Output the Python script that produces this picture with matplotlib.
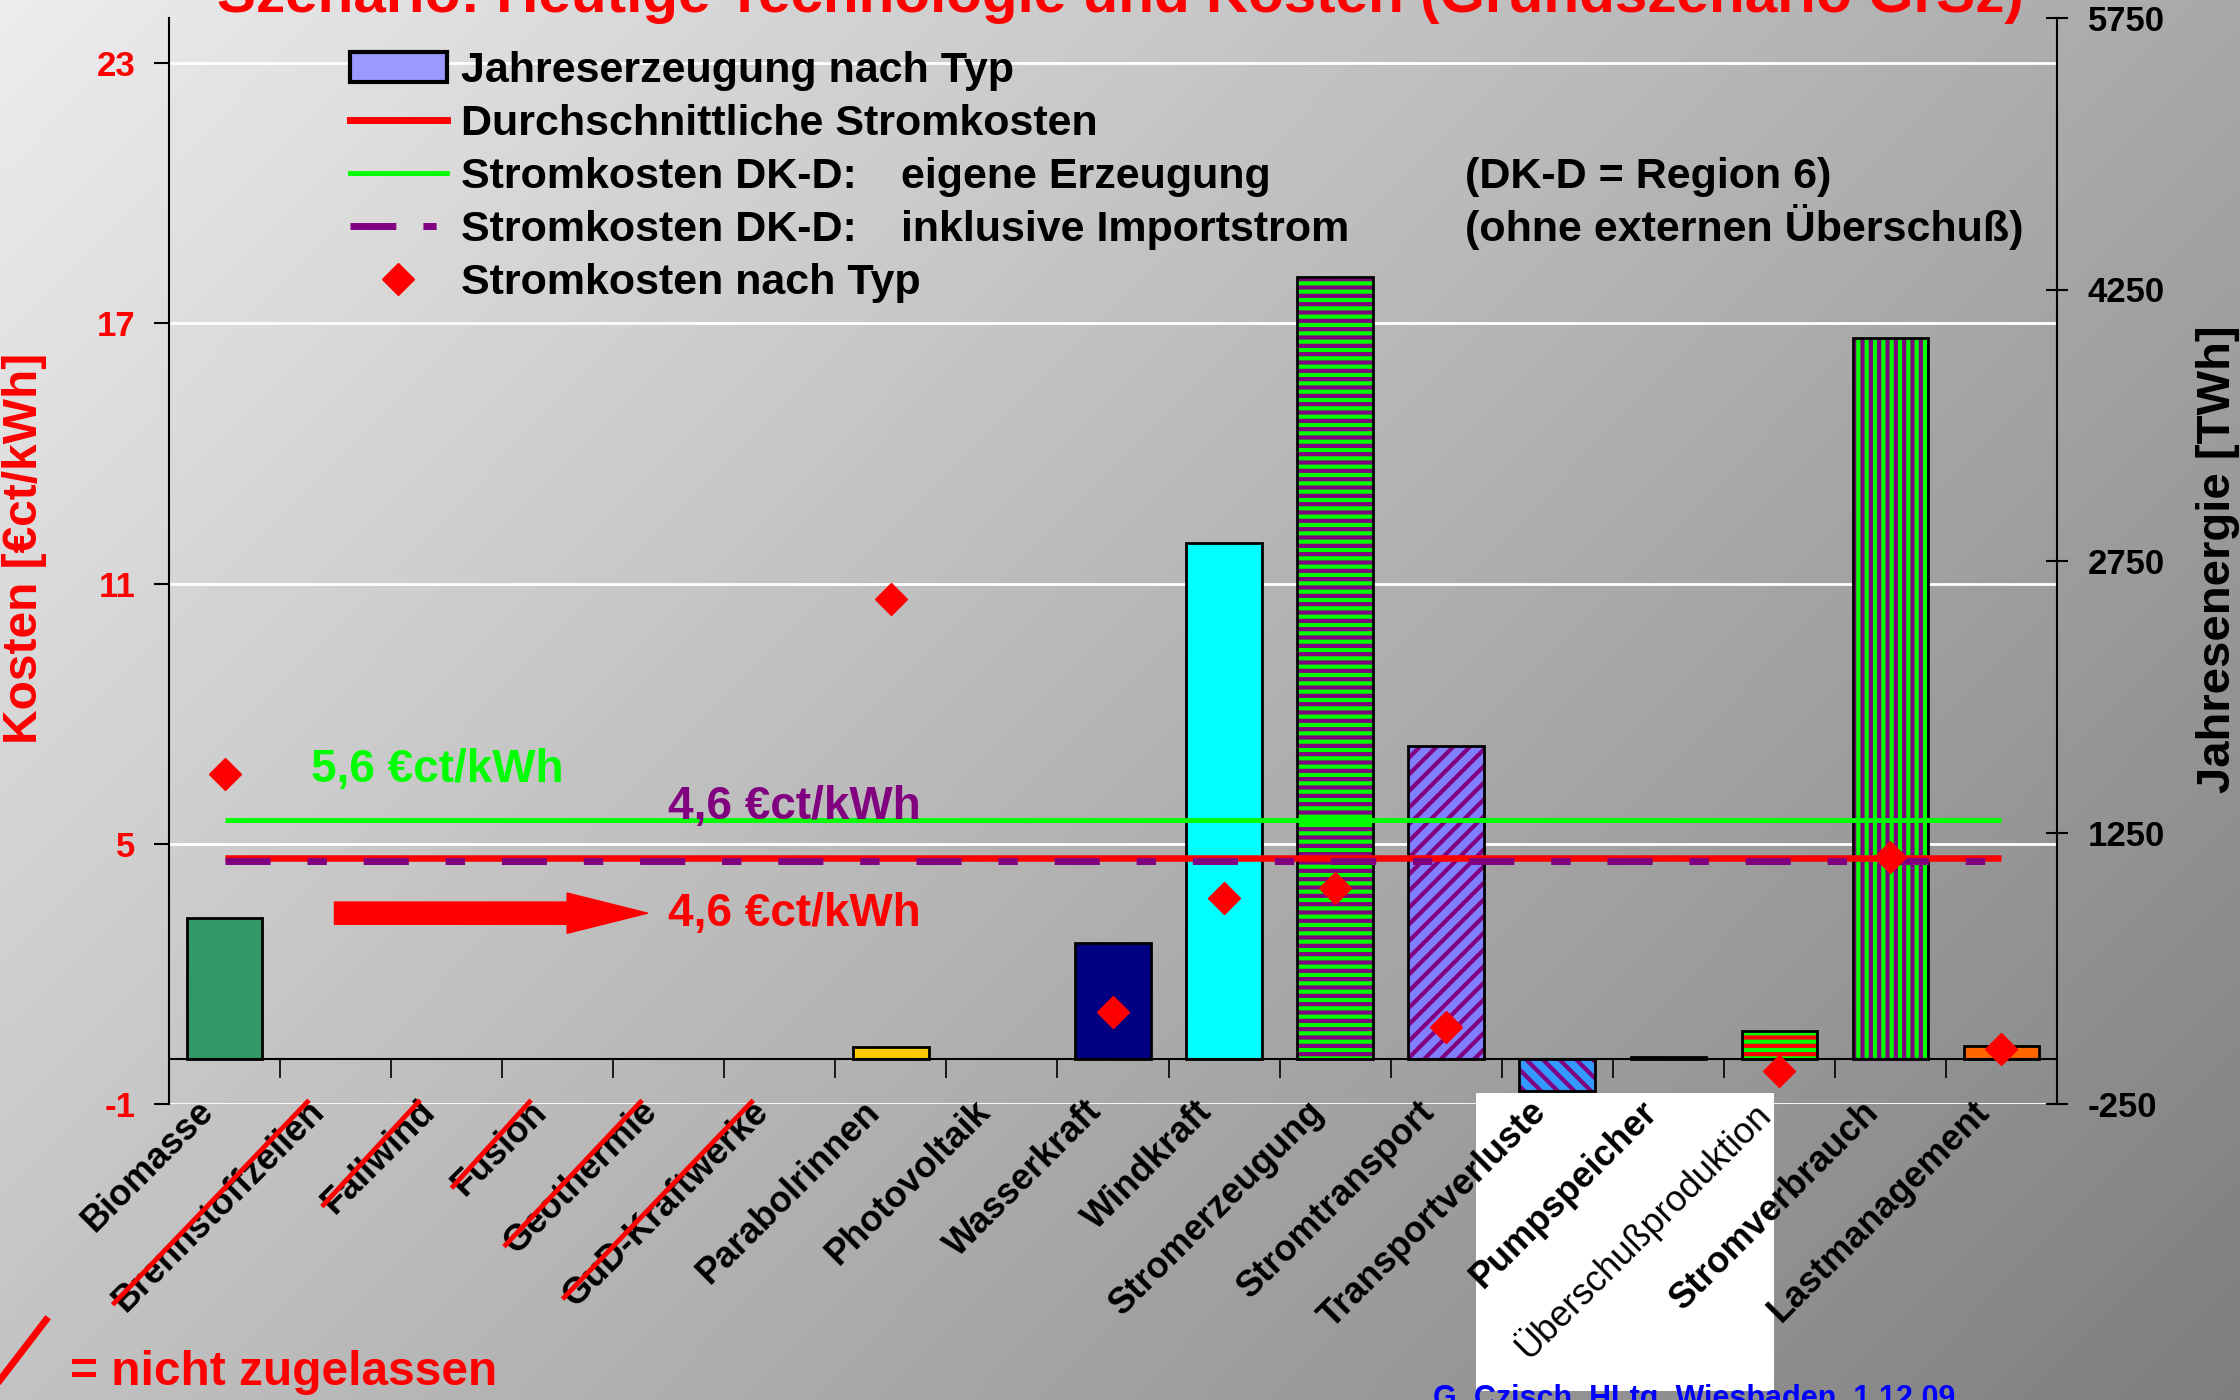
import numpy as np
import matplotlib.pyplot as plt
import matplotlib.transforms as mtransforms
from matplotlib.patches import Patch, Rectangle
from matplotlib.lines import Line2D

plt.rcParams['font.family'] = 'Liberation Sans'
plt.rcParams['font.weight'] = 'bold'
plt.rcParams['hatch.linewidth'] = 3.0
plt.rcParams['axes.unicode_minus'] = False

nan = np.nan
categories = ['Biomasse', 'Brennstoffzellen', 'Fallwind', 'Fusion', 'Geothermie',
              'GuD-Kraftwerke', 'Parabolrinnen', 'Photovoltaik', 'Wasserkraft',
              'Windkraft', 'Stromerzeugung', 'Stromtransport', 'Transportverluste',
              'Pumpspeicher', 'Überschußproduktion', 'Stromverbrauch', 'Lastmanagement']
# Jahresenergie [TWh] (rechte Achse)
energy_twh = [780, nan, nan, nan, nan, nan, 65, nan, 640, 2850, 4320, 1730,
              -178, 12, 153, 3980, 72]
# Stromkosten nach Typ [ct/kWh] (linke Achse)
cost_ct = [6.61, nan, nan, nan, nan, nan, 10.64, nan, 1.13, 3.76, 3.97, 0.78,
           nan, nan, -0.23, 4.69, 0.27]
not_allowed = ['Brennstoffzellen', 'Fallwind', 'Fusion', 'Geothermie', 'GuD-Kraftwerke']

avg_cost = 4.67        # Durchschnittliche Stromkosten
dkd_own = 5.55         # DK-D eigene Erzeugung
dkd_import = 4.60      # DK-D inklusive Importstrom

cost_ticks = [-1, 5, 11, 17, 23]
energy_ticks = [-250, 1250, 2750, 4250, 5750]

bar_face = ['#339966', 'none', 'none', 'none', 'none', 'none', '#FFCC00', 'none',
            '#000080', '#00FFFF', '#00FF00', '#8080FF', '#3399FF', '#000000',
            '#00FF00', '#00FF00', '#FF6600']
bar_hatch = ['', '', '', '', '', '', '', '', '', '', '--', '//', '\\\\', '', '--', '||', '']
hatch_col = ['k', 'k', 'k', 'k', 'k', 'k', 'k', 'k', 'k', 'k', '#800080', '#800080',
             '#800080', 'k', '#FF0000', '#800080', 'k']

W, H = 2240, 1400
fig = plt.figure(figsize=(W / 100, H / 100), dpi=100)

# grey gradient background
bg = fig.add_axes([0, 0, 1, 1], zorder=-10)
gx, gy = np.meshgrid(np.linspace(0, 1, 224), np.linspace(0, 1, 140))
grad = 236 - 68 * gx - 42 * gy
bg.imshow(grad, cmap='gray', vmin=0, vmax=255, aspect='auto', extent=[0, 1, 0, 1],
          interpolation='bilinear')
bg.axis('off')

# white patch behind some labels
fig.patches.append(Rectangle((1476 / W, 9 / H), 298 / W, 298 / H, transform=fig.transFigure,
                             facecolor='white', edgecolor='none', zorder=-5))

rect = [169 / W, (H - 1104) / H, (2057 - 169) / W, (1104 - 18) / H]
ax = fig.add_axes(rect)
ax2 = ax.twinx()
ax3 = ax.twinx()
for a in (ax, ax2, ax3):
    a.patch.set_visible(False)
    for s in a.spines.values():
        s.set_visible(False)

x = np.arange(len(categories))
ax.set_xlim(-0.5, len(categories) - 0.5)
ax.set_ylim(-1, 24.04)
ax3.set_ylim(-1, 24.04)
ax2.set_ylim(-250, 5750)

# left cost axis
ax.spines['left'].set_visible(True)
ax.spines['left'].set_linewidth(1.5)
ax.set_yticks(cost_ticks)
ax.tick_params(axis='y', colors='black', labelcolor='red', labelsize=25, length=11,
               width=1.5, pad=13)
ax.yaxis.grid(True, color='white', linewidth=2)
ax.set_axisbelow(True)

# boundary ticks on the zero line, category names below the plot
ax.set_xticks(x[:-1] + 0.5)
ax.tick_params(axis='x', bottom=False, labelbottom=False)
label_tr = mtransforms.blended_transform_factory(ax.transData, ax.transAxes) + \
    mtransforms.ScaledTranslation(-0.29, 0.10, fig.dpi_scale_trans)
cat_labels = []
for i, name in enumerate(categories):
    t = ax.text(x[i], 0, name, transform=label_tr, rotation=45, ha='right', va='top',
                rotation_mode='anchor', fontsize=26,
                fontweight='normal' if name == 'Überschußproduktion' else 'bold')
    cat_labels.append(t)

# right energy axis with bars
ax2.spines['right'].set_visible(True)
ax2.spines['right'].set_linewidth(1.5)
ax2.set_yticks(energy_ticks)
ax2.tick_params(axis='y', labelsize=25, length=16, width=1.5, direction='inout', pad=14)
ax2.xaxis.set_visible(True)
ax2.spines['bottom'].set_visible(True)
ax2.spines['bottom'].set_position(('data', 0))
ax2.spines['bottom'].set_linewidth(1.5)
ax2.tick_params(axis='x', bottom=True, labelbottom=False, length=14, width=1.2,
                direction='out')

bars = ax2.bar(x, energy_twh, width=0.68, color=bar_face, edgecolor=hatch_col, linewidth=0)
for b, h in zip(bars, bar_hatch):
    b.set_hatch(h)
ax2.bar(x, energy_twh, width=0.68, fill=False, edgecolor='black', linewidth=2)

# cost lines and markers
ax3.set_yticks([])
ax3.hlines(dkd_own, x[0], x[-1], color='#00FF00', linewidth=3.5)
ax3.hlines(avg_cost, x[0], x[-1], color='red', linewidth=4.7)
ax3.plot([x[0], x[-1]], [dkd_import, dkd_import], color='#800080', linewidth=5,
         dashes=(6.5, 5.3, 2.8, 5.3))
ax3.plot(x, cost_ct, linestyle='none', marker='D', markersize=16.5, color='red')

ax3.text(0.78, 6.71, '5,6 €ct/kWh', color='#00FF00', fontsize=33, va='center')
ax3.text(3.99, 5.84, '4,6 €ct/kWh', color='#800080', fontsize=33, va='center')
ax3.text(3.99, 3.38, '4,6 €ct/kWh', color='red', fontsize=33, va='center')
ax3.annotate('', xy=(3.81, 3.4), xytext=(0.99, 3.4),
             arrowprops=dict(arrowstyle='simple,head_length=5.8,head_width=2.9,tail_width=1.6',
                             color='red', mutation_scale=10, shrinkA=0, shrinkB=0))

handles = [Patch(facecolor='#9999FF', edgecolor='black', linewidth=3),
           Line2D([], [], color='red', linewidth=5),
           Line2D([], [], color='#00FF00', linewidth=3.5),
           Line2D([], [], color='#800080', linewidth=5, dashes=(6.6, 3.9, 1.9, 3.9)),
           Line2D([], [], color='red', marker='D', markersize=16.5, linestyle='none')]
labels = ['Jahreserzeugung nach Typ', 'Durchschnittliche Stromkosten',
          'Stromkosten DK-D:', 'Stromkosten DK-D:', 'Stromkosten nach Typ']
leg = ax3.legend(handles, labels, loc='upper left', bbox_to_anchor=(350 / W, 1 - 51 / H),
                 bbox_transform=fig.transFigure, frameon=False, fontsize=31,
                 handlelength=2.25, handletextpad=0.33, labelspacing=0.3,
                 borderpad=0, borderaxespad=0)

# axis titles and slide texts
fig.text(25 / W, 1 - 548 / H, 'Kosten [€ct/kWh]', color='red', fontsize=34.5,
         rotation=90, ha='center', va='center')
fig.text(2218 / W, 1 - 559 / H, 'Jahresenergie [TWh]', color='black', fontsize=34,
         rotation=90, ha='center', va='center')
fig.text(0.5, 1 - 12 / H, 'Szenario: Heutige Technologie und Kosten (Grundszenario GrSz)',
         color='red', fontsize=42, ha='center', va='baseline')
fig.text(70 / W, 1 - 1385 / H, '= nicht zugelassen', color='red', fontsize=34.5,
         ha='left', va='baseline')
fig.add_artist(Line2D([46 / W, 0], [1 - 1320 / H, 1 - 1380 / H], color='red', linewidth=5,
                      transform=fig.transFigure))
fig.text(1433 / W, 1 - 1407 / H, 'G. Czisch, HLtg. Wiesbaden, 1.12.09', color='blue',
         fontsize=22, ha='left', va='baseline')

fig.canvas.draw()
inv = fig.transFigure.inverted()
for t in cat_labels:
    if t.get_text() in not_allowed:
        bb = t.get_window_extent()
        p0 = inv.transform((bb.x0 + 8, bb.y0 + 16))
        p1 = inv.transform((bb.x1 - 24, bb.y1 - 8))
        fig.add_artist(Line2D([p0[0], p1[0]], [p0[1], p1[1]], color='red', linewidth=3.5,
                              transform=fig.transFigure))

texts = leg.get_texts()
for row, left, right in [(2, 'eigene Erzeugung', '(DK-D = Region 6)'),
                         (3, 'inklusive Importstrom', '(ohne externen Überschuß)')]:
    bb = texts[row].get_window_extent()
    yb = inv.transform((0, bb.y0))[1]
    fig.text(901 / W, yb, left, fontsize=31, ha='left', va='bottom')
    fig.text(1465 / W, yb, right, fontsize=31, ha='left', va='bottom')

fig.savefig('out.png', dpi=100)
